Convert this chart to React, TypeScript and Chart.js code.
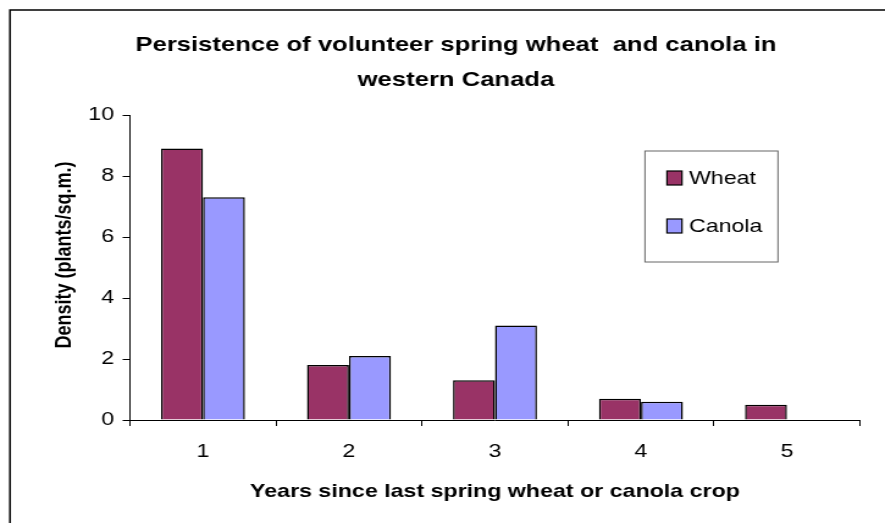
import React, { useEffect, useRef } from "react";
import { Chart, registerables } from "chart.js";

Chart.register(...registerables);

// ---- data ----
const categories = ["1", "2", "3", "4", "5"];
const seriesNames = ["Wheat", "Canola"];
const wheatValues = [8.9, 1.8, 1.3, 0.7, 0.5];
const canolaValues: (number | null)[] = [7.3, 2.1, 3.1, 0.6, null];
const yMin = 0;
const yMax = 10;
const yStep = 2;
const titleLines = [
  "Persistence of volunteer spring wheat  and canola in",
  "western Canada",
];
const xTitle = "Years since last spring wheat or canola crop";
const yTitle = "Density (plants/sq.m.)";

// ---- style ----
const FAMILY = "'Liberation Sans', Arial, sans-serif";
const WHEAT_COLOR = "#993366";
const CANOLA_COLOR = "#9999FF";
// the reference is horizontally stretched; draw at a narrower internal width
const CSS_W = 885;
const CSS_H = 523;
const SX = 1.2207;
const W = Math.round(CSS_W / SX); // 725
const px = (x: number) => x / SX;

const decorPlugin = {
  id: "decor",
  afterDraw(chart: any) {
    const ctx = chart.ctx as CanvasRenderingContext2D;
    ctx.save();
    // outer frame (top and left edges visible)
    ctx.strokeStyle = "#000";
    ctx.lineWidth = 1.5;
    ctx.beginPath();
    ctx.moveTo(px(10), CSS_H);
    ctx.lineTo(px(10), 10);
    ctx.lineTo(W, 10);
    ctx.stroke();

    // title
    ctx.fillStyle = "#000";
    ctx.textAlign = "center";
    ctx.textBaseline = "middle";
    ctx.font = `bold 21px ${FAMILY}`;
    titleLines.forEach((line, i) => ctx.fillText(line, px(456), 45 + i * 35));

    // y-axis title
    ctx.save();
    ctx.translate(px(65), 255);
    ctx.rotate(-Math.PI / 2);
    ctx.font = `bold 18px ${FAMILY}`;
    ctx.fillText(yTitle, 0, 0);
    ctx.restore();

    // legend
    const bx = px(645);
    const bw = px(778) - px(645);
    const by = 151;
    const bh = 111;
    ctx.fillStyle = "#fff";
    ctx.fillRect(bx, by, bw, bh);
    ctx.strokeStyle = "#666";
    ctx.lineWidth = 1;
    ctx.strokeRect(bx, by, bw, bh);
    const rows = [178, 226];
    chart.data.datasets.forEach((ds: any, i: number) => {
      const cy = rows[i];
      ctx.fillStyle = ds.backgroundColor;
      ctx.fillRect(px(667), cy - 7, px(682) - px(667), 14);
      ctx.strokeStyle = "#000";
      ctx.lineWidth = 1.2;
      ctx.strokeRect(px(667), cy - 7, px(682) - px(667), 14);
      ctx.fillStyle = "#000";
      ctx.textAlign = "left";
      ctx.textBaseline = "middle";
      ctx.font = `19px ${FAMILY}`;
      ctx.fillText(ds.label, px(689), cy + 1);
    });
    ctx.restore();
  },
};

export default function App() {
  const canvasRef = useRef<HTMLCanvasElement | null>(null);

  useEffect(() => {
    if (!canvasRef.current) return;
    Chart.defaults.font.family = FAMILY;
    const axisGrid = {
      display: true,
      drawOnChartArea: false,
      drawTicks: true,
      tickLength: 6,
      color: "#000",
      lineWidth: 1,
    };
    const chart = new Chart(canvasRef.current, {
      type: "bar",
      data: {
        labels: categories,
        datasets: [
          {
            label: seriesNames[0],
            data: wheatValues,
            backgroundColor: WHEAT_COLOR,
            borderColor: "#000",
            borderWidth: 1.5,
            categoryPercentage: 0.575,
            barPercentage: 1,
          },
          {
            label: seriesNames[1],
            data: canolaValues,
            backgroundColor: CANOLA_COLOR,
            borderColor: "#000",
            borderWidth: 1.5,
            categoryPercentage: 0.575,
            barPercentage: 1,
          },
        ],
      },
      options: {
        animation: false,
        responsive: false,
        devicePixelRatio: 1,
        layout: { padding: { left: 0, top: 115, right: W - px(860), bottom: 0 } },
        plugins: {
          legend: { display: false },
          title: { display: false },
          tooltip: { enabled: false },
        },
        scales: {
          x: {
            grid: { ...axisGrid, offset: true },
            border: { display: true, color: "#000", width: 1 },
            ticks: { color: "#000", font: { size: 19 }, padding: 14 },
            title: {
              display: true,
              text: xTitle,
              color: "#000",
              font: { size: 19, weight: "bold" },
              padding: { top: 0, bottom: 20 },
            },
            afterFit: (s: any) => {
              s.height = CSS_H - 420;
            },
          },
          y: {
            min: yMin,
            max: yMax,
            grid: axisGrid,
            border: { display: true, color: "#000", width: 1 },
            ticks: { stepSize: yStep, color: "#000", font: { size: 19 }, padding: 7 },
            afterFit: (s: any) => {
              s.width = px(130);
            },
          },
        },
      },
      plugins: [decorPlugin],
    } as any);
    return () => chart.destroy();
  }, []);

  return (
    <canvas
      ref={canvasRef}
      width={W}
      height={CSS_H}
      style={{
        position: "absolute",
        left: 0,
        top: 0,
        width: `${CSS_W}px`,
        height: `${CSS_H}px`,
        display: "block",
        background: "#fff",
      }}
    />
  );
}
